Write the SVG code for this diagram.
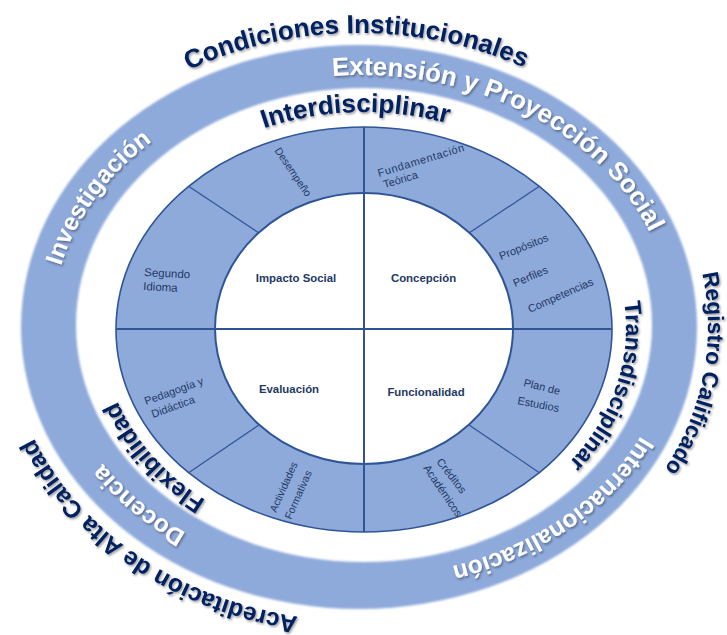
<svg xmlns="http://www.w3.org/2000/svg" width="727" height="635" viewBox="0 0 727 635">
<defs>
<style>
.big{font-family:"Liberation Sans",Arial,sans-serif;font-weight:bold;text-anchor:middle}
.navy{fill:#002060}
.white{fill:#ffffff}
.quad{font-family:"Liberation Sans",Arial,sans-serif;font-weight:bold;font-size:11.4px;fill:#1F3864;text-anchor:middle}
.seg{font-family:"Liberation Sans",Arial,sans-serif;font-size:11px;fill:#1F3864}
.div{stroke:#2F5597;stroke-width:1.2;fill:none}
.cross{stroke:#2F5597;stroke-width:2;fill:none}
</style>
<filter id="sh" x="-10%" y="-20%" width="125%" height="150%">
<feDropShadow dx="1.2" dy="1.6" stdDeviation="1.2" flood-color="#000000" flood-opacity="0.4"/>
</filter>
<filter id="soft" x="-5%" y="-5%" width="110%" height="110%">
<feGaussianBlur stdDeviation="1"/>
</filter>
<path id="pCond" d="M 133.4 101.8 A 351 294 0 0 1 579.9 98.5"/>
<path id="pReg" d="M 684.8 221.6 A 349 294 0 0 1 630.2 512"/>
<path id="pAcr" d="M 304.1 617.4 A 351 294 0 0 1 31.3 432.4"/>
<path id="pExt" d="M 315.6 77.8 A 310 251 0 0 1 656.7 248"/>
<path id="pInv" d="M 52.8 308.5 A 310 251 0 0 1 188.7 117.9"/>
<path id="pDoc" d="M 248.4 559.5 A 310 251 0 0 1 68 405.6"/>
<path id="pInt" d="M 656 405.6 A 310 251 0 0 1 418.5 572.8"/>
<path id="pInter" d="M 195.6 162.5 A 262 216 0 0 1 518 153.3"/>
<path id="pTrans" d="M 617.7 273.9 A 262 216 0 0 1 547.6 482.1"/>
<path id="pFlex" d="M 249.1 522.1 A 262 216 0 0 1 104 354.3"/>
</defs>
<rect width="727" height="635" fill="#ffffff"/>

<g id="outer-ring">
<path filter="url(#soft)" fill="#8EAADB" fill-rule="evenodd" d="M 21 327 A 338 282 0 1 0 697 327 A 338 282 0 1 0 21 327 Z M 76 325 A 288 237 0 1 0 652 325 A 288 237 0 1 0 76 325 Z"/>
</g>

<g id="segment-ring">
<ellipse cx="364" cy="329.5" rx="248" ry="202.5" fill="#8EAADB" stroke="#2F5597" stroke-width="1.6"/>
<ellipse cx="364" cy="328.5" rx="149" ry="135.5" fill="#ffffff" stroke="#2F5597" stroke-width="2"/>
</g>

<g id="connectors">
<line class="cross" x1="364" y1="127" x2="364" y2="532"/>
<line class="cross" x1="116" y1="329" x2="612" y2="329"/>
<line class="div" x1="188.6" y1="186.3" x2="258.6" y2="232.8"/>
<line class="div" x1="539.4" y1="186.3" x2="469.4" y2="232.8"/>
<line class="div" x1="539.4" y1="472.7" x2="469.4" y2="425.2"/>
<line class="div" x1="188.6" y1="472.7" x2="258.6" y2="425.2"/>
</g>

<g id="quadrants">
<text id="q-impacto" class="quad" x="296" y="282">Impacto Social</text>
<text id="q-concepcion" class="quad" x="423.5" y="282">Concepción</text>
<text id="q-evaluacion" class="quad" x="289" y="393">Evaluación</text>
<text id="q-funcionalidad" class="quad" x="426" y="396">Funcionalidad</text>
</g>

<g id="segments">
<g id="s-desempeno"><text class="seg" style="font-size:10.5px" text-anchor="middle" transform="translate(293,172) rotate(56)" x="0" y="3.5">Desempeño</text></g>
<g id="s-fundamentacion"><text class="seg" transform="translate(379,177) rotate(-17)"><tspan x="0" y="0" letter-spacing="0.6">Fundamentación</tspan><tspan x="2" y="12.5">Teórica</tspan></text></g>
<g id="s-propositos">
<text class="seg" transform="translate(501,260) rotate(-22)">Propósitos</text>
<text class="seg" transform="translate(515,287) rotate(-23)">Perfiles</text>
<text class="seg" transform="translate(530,313) rotate(-24)">Competencias</text>
</g>
<g id="s-plan"><text class="seg" transform="translate(523,386) rotate(14)">Plan de</text><text class="seg" transform="translate(517,404) rotate(11)">Estudios</text></g>
<g id="s-creditos"><text class="seg" transform="translate(436,462) rotate(52)">Créditos</text><text class="seg" transform="translate(423,468) rotate(56)">Académicos</text></g>
<g id="s-actividades"><text class="seg" style="font-size:10.5px" transform="translate(276,513) rotate(-66)">Actividades</text><text class="seg" style="font-size:10.5px" transform="translate(291,520) rotate(-66)">Formativas</text></g>
<g id="s-pedagogia"><text class="seg" transform="translate(146,405) rotate(-20)">Pedagogía y</text><text class="seg" transform="translate(153,418) rotate(-20)">Didáctica</text></g>
<g id="s-segundo"><text class="seg" style="font-size:11.5px" transform="translate(144,276) rotate(3)">Segundo</text><text class="seg" style="font-size:11.5px" transform="translate(143,290) rotate(3)">Idioma</text></g>
</g>

<g id="ring-labels">
<text id="t-condiciones" class="big navy" font-size="26" filter="url(#sh)"><textPath href="#pCond" startOffset="50%">Condiciones Institucionales</textPath></text>
<text id="t-registro" class="big navy" font-size="22.5" filter="url(#sh)"><textPath href="#pReg" startOffset="50%">Registro Calificado</textPath></text>
<text id="t-acreditacion" class="big navy" font-size="24.5" filter="url(#sh)"><textPath href="#pAcr" startOffset="50%">Acreditación de Alta Calidad</textPath></text>
<text id="t-extension" class="big white" font-size="25.8" filter="url(#sh)"><textPath href="#pExt" startOffset="50%">Extensión y Proyección Social</textPath></text>
<text id="t-investigacion" class="big white" font-size="24.5" filter="url(#sh)"><textPath href="#pInv" startOffset="50%">Investigación</textPath></text>
<text id="t-docencia" class="big white" font-size="24.5" filter="url(#sh)"><textPath href="#pDoc" startOffset="50%">Docencia</textPath></text>
<text id="t-internacional" class="big white" font-size="24.5" filter="url(#sh)"><textPath href="#pInt" startOffset="50%">Internacionalización</textPath></text>
<text id="t-interdisciplinar" class="big navy" font-size="26" filter="url(#sh)"><textPath href="#pInter" startOffset="50%">Interdisciplinar</textPath></text>
<text id="t-transdisciplinar" class="big navy" font-size="23" filter="url(#sh)"><textPath href="#pTrans" startOffset="50%">Transdisciplinar</textPath></text>
<text id="t-flexibilidad" class="big navy" font-size="24.5" filter="url(#sh)"><textPath href="#pFlex" startOffset="50%">Flexibilidad</textPath></text>
</g>
</svg>
